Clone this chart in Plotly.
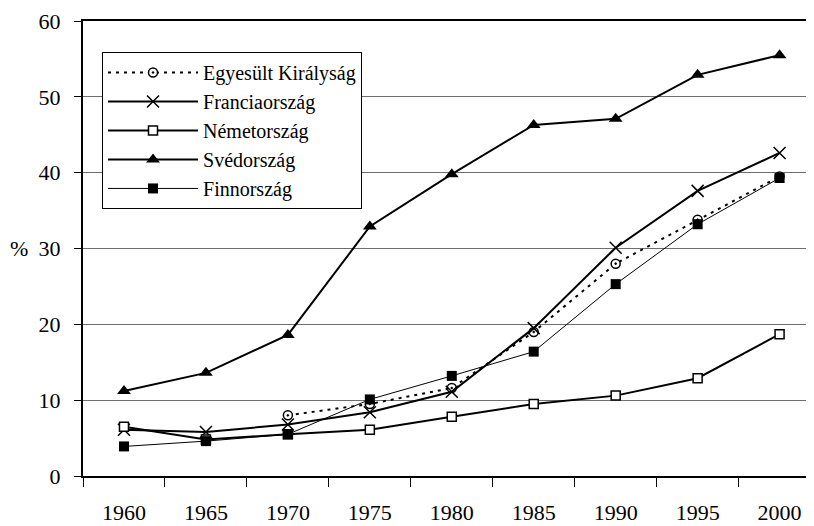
import plotly.graph_objects as go

years = ["1960", "1965", "1970", "1975", "1980", "1985", "1990", "1995", "2000"]

uk = [None, None, 8.0, 9.5, 11.6, 19.0, 28.0, 33.8, 39.5]
france = [6.1, 5.8, 6.8, 8.4, 11.1, 19.5, 30.1, 37.6, 42.6]
germany = [6.5, 4.8, 5.5, 6.1, 7.8, 9.5, 10.6, 12.9, 18.7]
sweden = [11.2, 13.6, 18.6, 32.9, 39.8, 46.3, 47.1, 52.9, 55.5]
finland = [3.9, 4.6, 5.5, 10.1, 13.2, 16.4, 25.3, 33.2, 39.3]

FONT = "Liberation Serif"


def build_plot():
    fig = go.Figure()
    fig.add_trace(go.Scatter(
        x=years, y=uk, name="Egyesült Királyság", mode="lines+markers",
        line=dict(color="black", width=2, dash="3px,5px"),
        marker=dict(symbol="circle-dot", size=9, color="white",
                    line=dict(color="black", width=1.5)),
    ))
    fig.add_trace(go.Scatter(
        x=years, y=france, name="Franciaország", mode="lines+markers",
        line=dict(color="black", width=2),
        marker=dict(symbol="x-thin-open", size=12, line=dict(color="black", width=1.5)),
    ))
    fig.add_trace(go.Scatter(
        x=years, y=germany, name="Németország", mode="lines+markers",
        line=dict(color="black", width=2),
        marker=dict(symbol="square", size=9, color="white",
                    line=dict(color="black", width=1.5)),
    ))
    fig.add_trace(go.Scatter(
        x=years, y=sweden, name="Svédország", mode="lines+markers",
        line=dict(color="black", width=2),
        marker=dict(symbol="triangle-up", size=12, color="black"),
    ))
    fig.add_trace(go.Scatter(
        x=years, y=finland, name="Finnország", mode="lines+markers",
        line=dict(color="black", width=1),
        marker=dict(symbol="square", size=10, color="black"),
    ))

    # the page body keeps an 8px margin, so the figure starts at (8, 8)
    fig.update_layout(
        width=806, height=518,
        margin=dict(l=75, r=0, t=13, b=50),
        paper_bgcolor="white", plot_bgcolor="white",
        font=dict(family=FONT, size=22, color="black"),
        legend=dict(
            x=0.026, y=0.932, xanchor="left", yanchor="top",
            bgcolor="white", bordercolor="black", borderwidth=1,
            font=dict(family=FONT, size=20), itemwidth=90,
            tracegroupgap=0,
        ),
        annotations=[dict(
            text="%", xref="paper", yref="y", x=-0.072, y=30,
            xanchor="right", yanchor="middle", showarrow=False,
            font=dict(family=FONT, size=22),
        )],
    )
    fig.update_xaxes(
        type="category", range=[-0.5, 8.42],
        showline=True, linecolor="black", linewidth=2, mirror=True,
        ticks="outside", tickson="boundaries", ticklen=9, tickcolor="black",
        showgrid=False, ticklabelstandoff=16,
    )
    fig.update_yaxes(
        range=[0, 60], dtick=10,
        showline=True, linecolor="black", linewidth=2,
        ticks="outside", ticklen=7, tickcolor="black",
        showgrid=True, gridcolor="#6e6e6e", gridwidth=1, zeroline=False,
        ticklabelstandoff=9,
    )
    return fig


def main() -> None:
    fig = build_plot()
    fig.write_html("out.html")


if __name__ == "__main__":
    main()
